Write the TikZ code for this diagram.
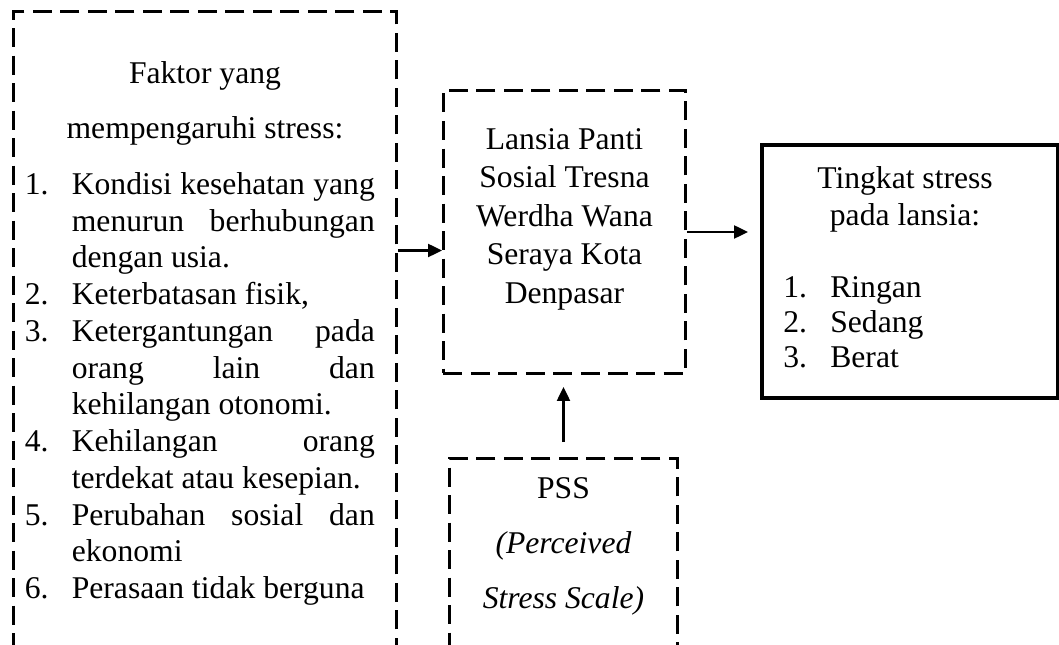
\documentclass[tikz,border=0pt]{standalone}
\usepackage{fontspec}
\setmainfont{Liberation Serif}
\usetikzlibrary{arrows.meta, positioning, calc}

\newcommand{\nomor}[1]{\makebox[0.94cm][l]{#1}}
\newcommand{\rata}[1]{\makebox[6.06cm][s]{#1}}
\newcommand{\indn}{\hspace*{0.94cm}}

\begin{document}
\begin{tikzpicture}[>={Triangle[length=0.28cm, width=0.26cm]}]

% Styles
\tikzstyle{dashbox} = [rectangle, inner sep=0pt, anchor=north west, draw=black, line width=1.7pt, dash pattern=on 0.38cm off 0.17cm]
\tikzstyle{solidbox} = [rectangle, inner sep=0pt, anchor=north west, draw=black, line width=2.3pt]
\tikzstyle{teks} = [inner sep=0pt, anchor=base, font=\fontsize{18}{20.9}\selectfont]
\tikzstyle{arrow} = [line width=1.4pt, ->]

\clip (0,0) rectangle (21.18,-12.9);

% --- Boxes ---
\node (faktor) [dashbox, minimum width=7.66cm, minimum height=13.5cm] at (0.24,-0.2) {};
\node (lansia) [dashbox, minimum width=4.84cm, minimum height=5.66cm] at (8.84,-1.78) {};
\node (tingkat) [solidbox, minimum width=5.92cm, minimum height=5.06cm] at (15.2,-2.86) {};
\node (pss) [dashbox, minimum width=4.56cm, minimum height=5cm] at (8.96,-9.14) {};

% --- Texts ---
% 1. Faktor
\node (faktorjudul) [teks] at ($(faktor.north)+(0,-1.47)$) {\parbox[t]{7cm}{\centering Faktor yang\\[10.4pt] mempengaruhi stress:}};
\node (faktorlist) [teks, anchor=base west] at ($(faktor.north west)+(0.25,-3.69)$) {\parbox[t]{7.1cm}{%
\nomor{1.}\rata{Kondisi kesehatan yang}\\
\indn\rata{menurun berhubungan}\\
\indn dengan usia.\\
\nomor{2.}Keterbatasan fisik,\\
\nomor{3.}\rata{Ketergantungan pada}\\
\indn\rata{orang lain dan}\\
\indn kehilangan otonomi.\\
\nomor{4.}\rata{Kehilangan orang}\\
\indn terdekat atau kesepian.\\
\nomor{5.}\rata{Perubahan sosial dan}\\
\indn ekonomi\\
\nomor{6.}Perasaan tidak berguna}};

% 2. Lansia
\node (lansiateks) [teks, font=\fontsize{18}{22}\selectfont] at ($(lansia.north)+(0,-1.2)$) {\parbox[t]{4.7cm}{\centering Lansia Panti\\Sosial Tresna\\Werdha Wana\\Seraya Kota\\Denpasar}};

% 3. Tingkat stress
\node (tingkatjudul) [teks, font=\fontsize{18}{21.6}\selectfont] at ($(tingkat.north)+(-0.1,-0.9)$) {\parbox[t]{5cm}{\centering Tingkat stress\\pada lansia:}};
\node (tingkatlist) [teks, anchor=base west, font=\fontsize{18}{20.1}\selectfont] at ($(tingkat.north west)+(0.46,-3.08)$) {\parbox[t]{4.5cm}{%
\nomor{1.}Ringan\\
\nomor{2.}Sedang\\
\nomor{3.}Berat}};

% 4. PSS
\node (pssteks) [teks, font=\fontsize{18}{31.3}\selectfont] at ($(pss.north)+(0,-0.82)$) {\parbox[t]{4.4cm}{\centering PSS\\\textit{(Perceived}\\\textit{Stress Scale)}}};

% --- Arrows ---
\coordinate (masuk) at ($(lansia.west)+(0,-0.37)$);
\draw[arrow] (faktor.east |- masuk) -- (masuk);
\draw[arrow, shorten >=0.24cm] (lansia.east) -- (tingkat.west |- lansia.east);
\draw[arrow, shorten <=0.3cm, shorten >=0.24cm] (pss.north) -- (pss.north |- lansia.south);

\end{tikzpicture}
\end{document}
